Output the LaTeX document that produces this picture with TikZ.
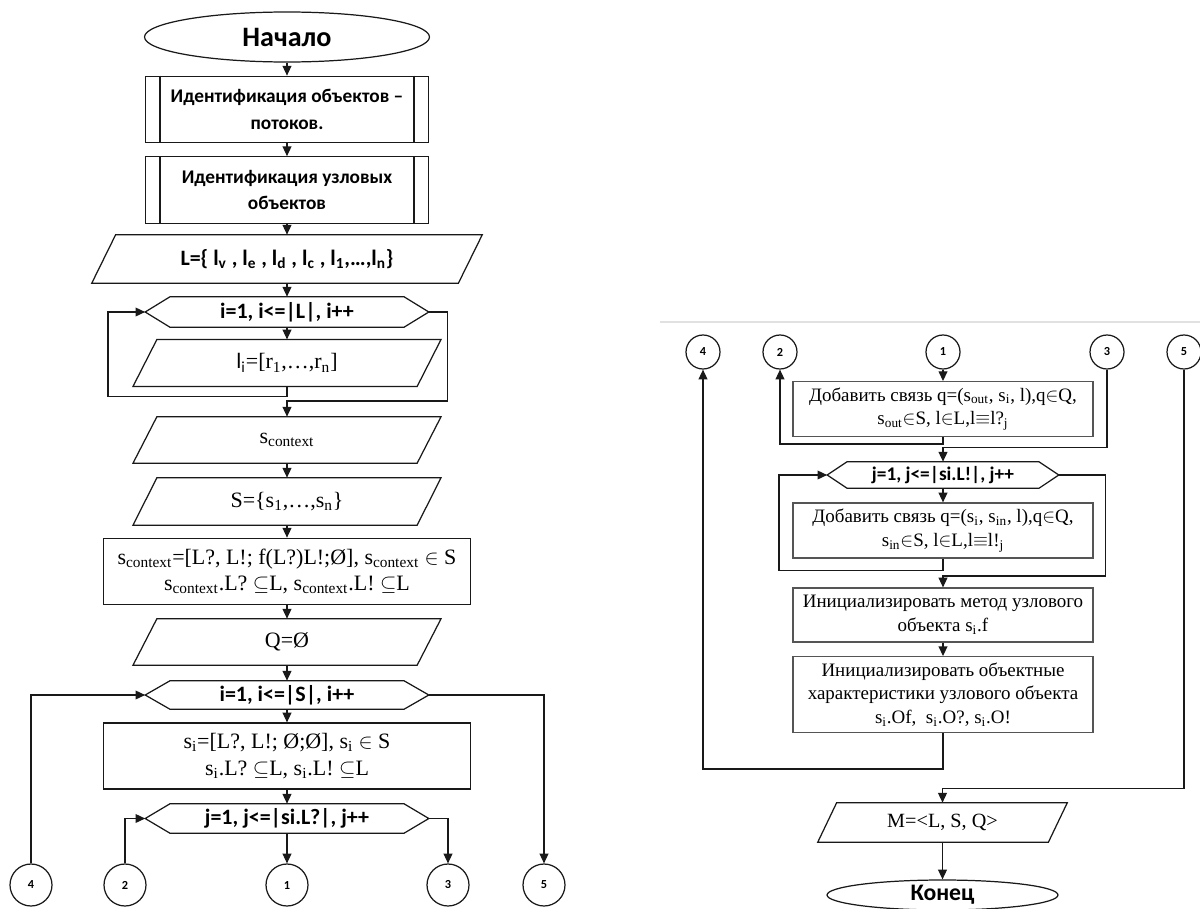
\documentclass[tikz,border=0pt]{standalone}
\usepackage{fontspec}
\usepackage{tikz}
\usepackage{xcolor}
\usetikzlibrary{arrows.meta, positioning, shapes.geometric, calc}
\setmainfont{Liberation Serif}
\newfontfamily\calb{Carlito}
\definecolor{ink}{RGB}{25,25,25}
\definecolor{rim}{RGB}{85,85,85}
\definecolor{pageline}{RGB}{225,225,225}
\newcommand{\sanslbl}{\calb\bfseries\fontsize{12.5}{16}\selectfont}
\newcommand{\seriflbl}{\fontsize{12.5}{15}\selectfont}
\tikzstyle{term}=[ellipse, draw=ink, line width=0.7pt, inner sep=0pt,
  font=\calb\bfseries\fontsize{16}{18}\selectfont]
\tikzstyle{subproc}=[rectangle, draw=ink, line width=0.7pt, align=center,
  minimum width=5.66cm, minimum height=1.33cm,
  font=\calb\bfseries\fontsize{11}{15}\selectfont]
\tikzstyle{iobox}=[rectangle, inner sep=1pt, align=center,
  minimum width=5.67cm, minimum height=0.93cm, font=\seriflbl]
\tikzstyle{loophex}=[rectangle, inner sep=1pt, align=center,
  minimum width=5.66cm, minimum height=0.58cm, font=\sanslbl]
\tikzstyle{proc}=[rectangle, draw=ink, line width=0.7pt, align=center,
  minimum width=7.34cm, minimum height=1.33cm, font=\seriflbl]
\tikzstyle{rproc}=[rectangle, draw=rim, line width=0.7pt, align=center,
  minimum width=6.0cm, font=\fontsize{10.8}{13.5}\selectfont]
\tikzstyle{conn}=[circle, draw=ink, line width=0.7pt, inner sep=0pt,
  minimum size=0.84cm, font=\calb\bfseries\fontsize{7}{8}\selectfont]
\tikzstyle{wire}=[line width=0.7pt, color=ink]
\tikzstyle{arr}=[-{Triangle[length=5.5pt, width=5pt]}, line width=0.7pt, color=ink]
% frames for parallelograms and loop hexagons
\newcommand{\ioframe}[2]{\draw[wire] ($(#1.north west)+(#2,0)$) -- ($(#1.north east)+(#2,0)$)
  -- ($(#1.south east)-(#2,0)$) -- ($(#1.south west)-(#2,0)$) -- cycle;}
\newcommand{\hexframe}[2]{\draw[wire] (#1.west) -- ($(#1.north west)+(#2,0)$)
  -- ($(#1.north east)-(#2,0)$) -- (#1.east) -- ($(#1.south east)-(#2,0)$)
  -- ($(#1.south west)+(#2,0)$) -- cycle;}

\begin{document}
\begin{tikzpicture}[x=0.02cm, y=-0.02cm]
  \useasboundingbox[fill=white] (0,0) rectangle (1200,909);
  \draw[pageline, line width=1pt] (660,322) -- (1200,322);

  % left part
  \node[term, minimum width=5.7cm, minimum height=1.0cm] (start) at (287,37) {Начало};
  \node[subproc] (id1) at (287,109.5) {Идентификация объектов –\\потоков.};
  \node[subproc] (id2) at (287,190) {Идентификация узловых\\объектов};
  \foreach \n in {id1,id2} {
    \draw[wire] ($(\n.north west)+(15,0)$) -- ($(\n.south west)+(15,0)$);
    \draw[wire] ($(\n.north east)-(15,0)$) -- ($(\n.south east)-(15,0)$);
  }
  \node[iobox, minimum width=7.32cm, minimum height=0.96cm, font=\sanslbl] (Lset) at (287,259)
    {L=\{ l\textsubscript{v} , l\textsubscript{e} , l\textsubscript{d} , l\textsubscript{c} , l\textsubscript{1},…,l\textsubscript{n}\}};
  \ioframe{Lset}{12}
  \node[loophex, minimum height=0.6cm] (loopL) at (287,312) {i=1, i<=|L|, i++};
  \hexframe{loopL}{25}
  \node[iobox] (li) at (287,363) {{\calb l\textsubscript{i}}=[r\textsubscript{1},…,r\textsubscript{n}]};
  \ioframe{li}{12}
  \node[iobox, minimum height=0.92cm] (sctx) at (287,440) {s\textsubscript{context}};
  \ioframe{sctx}{12}
  \node[iobox, minimum height=0.94cm] (Sset) at (287,501.5) {S=\{s\textsubscript{1},…,s\textsubscript{n}\}};
  \ioframe{Sset}{12}
  \node[proc] (sdef) at (287,571.5)
    {s\textsubscript{context}=[L?, L!; f(L?)L!;Ø], s\textsubscript{context} $\in$ S\\
     s\textsubscript{context}.L? $\subseteq$L, s\textsubscript{context}.L! $\subseteq$L};
  \node[iobox, minimum height=0.92cm] (Qset) at (287,642) {Q=Ø};
  \ioframe{Qset}{12}
  \node[loophex, minimum height=0.56cm] (loopS) at (287,695) {i=1, i<=|S|, i++};
  \hexframe{loopS}{25}
  \node[proc, minimum height=1.32cm] (sdefi) at (287,756)
    {s\textsubscript{i}=[L?, L!; Ø;Ø], s\textsubscript{i} $\in$ S\\
     s\textsubscript{i}.L? $\subseteq$L, s\textsubscript{i}.L! $\subseteq$L};
  \node[loophex] (loopJ) at (287,818.5) {j=1, j<=|si.L?|, j++};
  \hexframe{loopJ}{25}
  \node[conn] (c4l) at (31,885) {4};
  \node[conn] (c2l) at (125,885) {2};
  \node[conn] (c1l) at (287,885) {1};
  \node[conn] (c3l) at (448,885) {3};
  \node[conn] (c5l) at (544,885) {5};

  \draw[arr] (start) -- (id1);
  \draw[arr] (id1) -- (id2);
  \draw[arr] (id2) -- (Lset);
  \draw[arr] (Lset) -- (loopL);
  \draw[arr] (loopL) -- (li);
  \draw[arr] (li.south) -- ++(0,10) -- ++(-179,0) |- (loopL.west);
  \draw[arr] (loopL.east) -- ++(19,0) -- ++(0,89) -| (sctx.north);
  \draw[arr] (sctx) -- (Sset);
  \draw[arr] (Sset) -- (sdef);
  \draw[arr] (sdef) -- (Qset);
  \draw[arr] (Qset) -- (loopS);
  \draw[arr] (loopS) -- (sdefi);
  \draw[arr] (sdefi) -- (loopJ);
  \draw[arr] (loopJ) -- (c1l);
  \draw[arr] (loopJ.east) -| (c3l.north);
  \draw[arr] (c2l.north) |- (loopJ.west);
  \draw[arr] (c4l.north) |- (loopS.west);
  \draw[arr] (loopS.east) -| (c5l.north);

  % right part
  \node[conn, minimum size=0.68cm] (c4r) at (703,352) {4};
  \node[conn, minimum size=0.68cm] (c2r) at (780,352) {2};
  \node[conn, minimum size=0.68cm] (c1r) at (943,352) {1};
  \node[conn, minimum size=0.68cm] (c3r) at (1107,352) {3};
  \node[conn, minimum size=0.68cm] (c5r) at (1184,352) {5};
  \node[rproc, minimum height=0.96cm] (addA) at (943,409)
    {Добавить связь q=(s\textsubscript{out}, s\textsubscript{i}, l),q$\in$Q,\\
     s\textsubscript{out}$\in$S, l$\in$L,l$\equiv$l?\textsubscript{j}};
  \node[loophex, minimum width=4.62cm, minimum height=0.52cm,
    font=\calb\bfseries\fontsize{11}{13}\selectfont] (loopR) at (943,475) {j=1, j<=|si.L!|, j++};
  \hexframe{loopR}{20}
  \node[rproc, minimum height=1.1cm] (addB) at (943,530.5)
    {Добавить связь q=(s\textsubscript{i}, s\textsubscript{in}, l),q$\in$Q,\\
     s\textsubscript{in}$\in$S, l$\in$L,l$\equiv$l!\textsubscript{j}};
  \node[rproc, minimum height=1.08cm] (initF) at (943,615)
    {Инициализировать метод узлового\\объекта s\textsubscript{i}.f};
  \node[rproc, minimum height=1.3cm] (initO) at (943,694.5)
    {Инициализировать объектные\\характеристики узлового объекта\\
     s\textsubscript{i}.Of,\ \ s\textsubscript{i}.O?, s\textsubscript{i}.O!};
  \node[iobox, minimum width=4.6cm, minimum height=0.78cm,
    font=\fontsize{11.5}{14}\selectfont] (Mres) at (942.5,822.5) {M=<L, S, Q>};
  \ioframe{Mres}{9.5}
  \node[term, minimum width=4.62cm, minimum height=0.6cm,
    font=\calb\bfseries\fontsize{13.5}{16}\selectfont] (end) at (942.5,895) {Конец};

  \draw[arr] (c1r) -- (addA);
  \draw[arr] (addA.south) -- ++(0,7) -| (c2r.south);
  \draw[arr] (c3r.south) -- ++(0,78) -| (loopR.north);
  \draw[arr] (loopR) -- (addB);
  \draw[arr] (addB.south) -- ++(0,12) -- ++(-164,0) |- (loopR.west);
  \draw[arr] (loopR.east) -- ++(47,0) -- ++(0,101) -| (initF.north);
  \draw[arr] (initF) -- (initO);
  \draw[arr] (initO.south) -- ++(0,36) -| (c4r.south);
  \draw[arr] (c5r.south) -- ++(0,419) -| (Mres.north);
  \draw[arr] (Mres) -- (end);
\end{tikzpicture}
\end{document}
